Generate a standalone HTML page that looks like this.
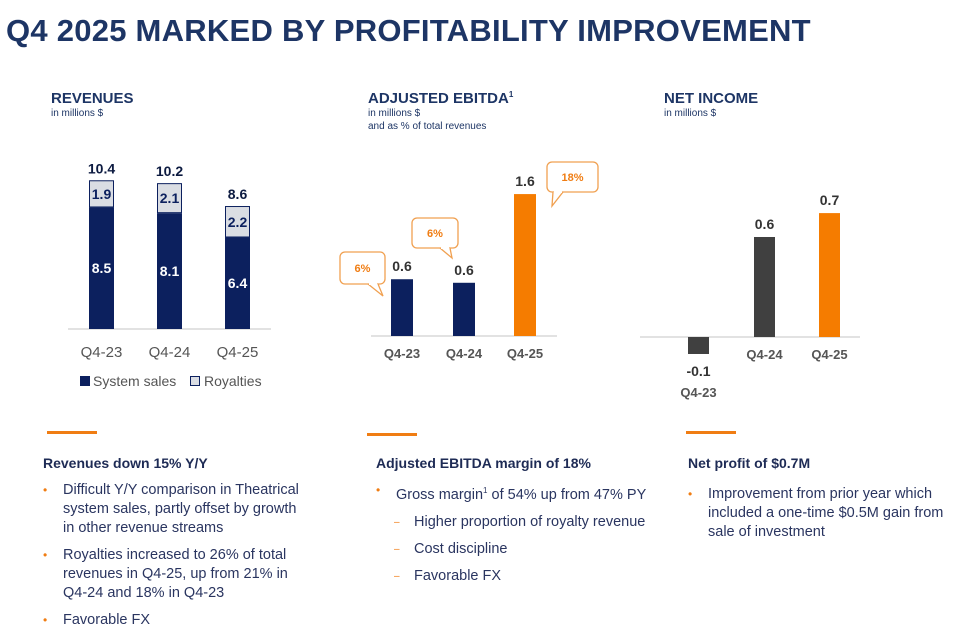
<!DOCTYPE html>
<html><head><meta charset="utf-8"><style>
body{margin:0;width:958px;height:635px;background:#fff;font-family:"Liberation Sans",sans-serif;position:relative;overflow:hidden;color:#1e2b55}
.abs{position:absolute}
h1{position:absolute;left:6px;top:13px;margin:0;font-size:31px;font-weight:bold;color:#1d3565;letter-spacing:0.25px}
.ttl{font-size:15px;font-weight:bold;color:#1d3565}
.sub{font-size:10px;color:#1d3565;line-height:13px}
.rule{position:absolute;height:3px;width:50px;background:#f07d13}
.hd{position:absolute;font-size:14px;font-weight:bold;color:#1e2b55}
ul{position:absolute;margin:0;padding:0;list-style:none;font-size:14.5px;line-height:19px;color:#2a3560}
li{position:relative;padding-left:20px;margin-bottom:8px}
li:before{content:"•";color:#f07d13;position:absolute;left:0;font-size:12px}
li.d{padding-left:38px;margin-bottom:8px}
li.d:before{content:"–";left:18px;font-size:10px}
svg text{font-family:"Liberation Sans",sans-serif}
</style></head><body>
<h1>Q4 2025 MARKED BY PROFITABILITY IMPROVEMENT</h1>

<div class="abs" style="left:51px;top:90px"><div class="ttl">REVENUES</div><div class="sub">in millions $</div></div>
<div class="abs" style="left:368px;top:90px"><div class="ttl">ADJUSTED EBITDA<sup style="font-size:8px">1</sup></div><div class="sub">in millions $<br>and as % of total revenues</div></div>
<div class="abs" style="left:664px;top:90px"><div class="ttl">NET INCOME</div><div class="sub">in millions $</div></div>

<svg id="chart" class="abs" style="left:0;top:0" width="958" height="420"></svg>

<div class="rule" style="left:47px;top:431px"></div>
<div class="rule" style="left:367px;top:433px"></div>
<div class="rule" style="left:686px;top:431px"></div>

<div class="hd" style="left:43px;top:455px">Revenues down 15% Y/Y</div>
<ul style="left:43px;top:481px;width:262px">
<li>Difficult Y/Y comparison in Theatrical system sales, partly offset by growth in other revenue streams</li>
<li>Royalties increased to 26% of total revenues in Q4-25, up from 21% in Q4-24 and 18% in Q4-23</li>
<li>Favorable FX</li>
</ul>
<div class="hd" style="left:376px;top:455px">Adjusted EBITDA margin of 18%</div>
<ul style="left:376px;top:481px;width:300px">
<li>Gross margin<sup style="font-size:8px">1</sup> of 54% up from 47% PY</li>
<li class="d">Higher proportion of royalty revenue</li>
<li class="d">Cost discipline</li>
<li class="d">Favorable FX</li>
</ul>
<div class="hd" style="left:688px;top:455px">Net profit of $0.7M</div>
<ul style="left:688px;top:485px;width:262px">
<li>Improvement from prior year which included a one-time $0.5M gain from sale of investment</li>
</ul>

<script>
const cats=["Q4-23","Q4-24","Q4-25"];
const sysSales=[8.5,8.1,6.4];
const royalties=[1.9,2.1,2.2];
const revTotals=["10.4","10.2","8.6"];
const ebitda=[0.64,0.6,1.6];
const ebitdaLabels=["0.6","0.6","1.6"];
const margins=["6%","6%","18%"];
const netIncome=[-0.096,0.565,0.7];
const netLabels=["-0.1","0.6","0.7"];

const svg=document.getElementById('chart');
const NS="http://www.w3.org/2000/svg";
function el(t,a,txt){const e=document.createElementNS(NS,t);for(const k in a)e.setAttribute(k,a[k]);if(txt!==undefined)e.textContent=txt;svg.appendChild(e);return e;}

// Revenues
const rBase=329,rScale=14.3,rX=[89,157,225],rW=25;
const ry=v=>rBase-v*rScale;
let ax=el('line',{x1:68,x2:271,y1:rBase,y2:rBase,stroke:'#d9d9d9','stroke-width':1.5});

cats.forEach((c,i)=>{
  const s=sysSales[i],r=royalties[i];
  let b=el('rect',{x:rX[i],y:ry(s),width:rW,height:rBase-ry(s),fill:'#0c205e'});
  
  let b2=el('rect',{x:rX[i]+0.5,y:ry(s+r)+0.5,width:rW-1,height:r*rScale-1,fill:'#dadde3',stroke:'#0c205e','stroke-width':1});
  
  let t=el('text',{x:rX[i]+rW/2,y:(ry(s)+rBase)/2+5,'text-anchor':'middle',fill:'#fff','font-size':14,'font-weight':'bold'},s.toFixed(1));
  
  let t2=el('text',{x:rX[i]+rW/2,y:ry(s+r/2)+5,'text-anchor':'middle',fill:'#0c205e','font-size':14,'font-weight':'bold'},r.toFixed(1));
  
  let t3=el('text',{x:rX[i]+rW/2,y:ry(s+r)-7,'text-anchor':'middle',fill:'#0c1a40','font-size':14,'font-weight':'bold'},revTotals[i]);
  
  let t4=el('text',{x:rX[i]+rW/2,y:rBase+28,'text-anchor':'middle',fill:'#555','font-size':15},c);
  
});
let lg1=el('rect',{x:80,y:376,width:10,height:10,fill:'#0c205e'});

let lt1=el('text',{x:93,y:386,fill:'#555','font-size':14},'System sales');

let lg2=el('rect',{x:190.5,y:376.5,width:9,height:9,fill:'#dadde3',stroke:'#0c205e'});

let lt2=el('text',{x:204,y:386,fill:'#555','font-size':14},'Royalties');


// EBITDA
const eBase=336,eScale=88.7,eX=[391,453,514],eW=22;
const ey=v=>eBase-v*eScale;
let ax2=el('line',{x1:371,x2:557,y1:eBase,y2:eBase,stroke:'#d9d9d9','stroke-width':1.5});

const calloutPos=[[340,252,45,32,368,383,296,378],[412,218,46,30,440,452,258,450],[547,162,51,30,553,552,206,563]];
cats.forEach((c,i)=>{
  const col=i==2?'#f57c00':'#0c205e';
  let b=el('rect',{x:eX[i],y:ey(ebitda[i]),width:eW,height:ebitda[i]*eScale,fill:col});
  
  let t=el('text',{x:eX[i]+eW/2,y:ey(ebitda[i])-8,'text-anchor':'middle',fill:'#333','font-size':14,'font-weight':'bold'},ebitdaLabels[i]);
  
  let t2=el('text',{x:eX[i]+eW/2,y:eBase+22,'text-anchor':'middle',fill:'#555','font-size':13,'font-weight':'bold'},c);
  
  const [cx,cy,cw,ch,b1,tx,ty,b2]=calloutPos[i];
  let r=el('rect',{x:cx,y:cy,width:cw,height:ch,rx:5,fill:'#fff',stroke:'#f0a050','stroke-width':1.3});
  
  const by=cy+ch;
  let p=el('path',{d:`M${b1},${by} L${tx},${ty} L${b2},${by}`,fill:'#fff',stroke:'#f0a050','stroke-width':1.3});
  
  let g=el('line',{x1:b1+1,x2:b2-1,y1:by,y2:by,stroke:'#fff','stroke-width':2});
  
  let mt=el('text',{x:cx+cw/2,y:cy+ch/2+4,'text-anchor':'middle',fill:'#f07d13','font-size':11,'font-weight':'bold'},margins[i]);
  
});

// Net income
const nBase=337,nScale=177,nX=[688,754,819],nW=21;
const ny=v=>nBase-v*nScale;
let ax3=el('line',{x1:640,x2:860,y1:nBase,y2:nBase,stroke:'#d9d9d9','stroke-width':1.5});

cats.forEach((c,i)=>{
  const v=netIncome[i],col=i==2?'#f57c00':'#404040';
  let b=el('rect',{x:nX[i],y:Math.min(ny(v),nBase),width:nW,height:Math.abs(v)*nScale,fill:col});
  
  const neg=v<0;
  let t=el('text',{x:nX[i]+nW/2,y:neg?ny(v)+22:ny(v)-8,'text-anchor':'middle',fill:'#333','font-size':14,'font-weight':'bold'},netLabels[i]);
  
  let t2=el('text',{x:nX[i]+nW/2,y:neg?ny(v)+43:nBase+22,'text-anchor':'middle',fill:'#555','font-size':13,'font-weight':'bold'},c);
  
});
</script>
</body></html>
